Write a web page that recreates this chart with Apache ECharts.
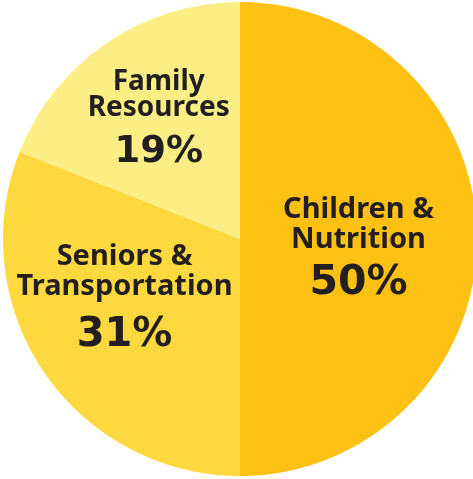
<!DOCTYPE html>
<html>
<head>
<meta charset="utf-8">
<script src="https://cdn.jsdelivr.net/npm/echarts@6/dist/echarts.min.js"></script>
<style>
  html, body { margin: 0; padding: 0; background: #fff; }
  #container { width: 473px; height: 479px; }
</style>
</head>
<body>
<div id="container"></div>
<script>
var names = ['Children &\nNutrition', 'Seniors &\nTransportation', 'Family\nResources'];
var values = [50, 31, 19];
var colors = ['#FDC113', '#FDD83F', '#FAEE84'];
// label tweaks per slice: [nameSize, nameLineHeight, pctSize, pctLineHeight, offsetX, offsetY]
var labelSets = [
    [29, 30, 41, 56, -3, 14],
    [29, 30, 40, 68, -15, -2],
    [28, 26, 37, 62, -13, -12]
];

var myChart = echarts.init(document.getElementById('container'));
var option = {
    animation: false,
    series: [
        {
            type: 'pie',
            radius: [0, 237],
            center: [240, 239],
            startAngle: 90,
            clockwise: true,
            label: {
                position: 'inside',
                formatter: function(p) {
                    return '{n|' + p.name.split('\n').join('}\n{n|') + '}\n{p|' + p.value + '%}';
                },
                color: '#231F20'
            },
            data: values.map(function(v, i) {
                var s = labelSets[i];
                return {
                    value: v,
                    name: names[i],
                    itemStyle: { color: colors[i] },
                    label: {
                        offset: [s[4], s[5]],
                        rich: {
                            n: { fontFamily: 'Noto Sans', fontWeight: 'bold', fontSize: s[0], lineHeight: s[1], color: '#231F20', align: 'center' },
                            p: { fontFamily: 'DejaVu Sans', fontWeight: 'bold', fontSize: s[2], lineHeight: s[3], color: '#231F20', align: 'center' }
                        }
                    }
                };
            })
        }
    ]
};
myChart.setOption(option, true);
</script>
</body>
</html>
